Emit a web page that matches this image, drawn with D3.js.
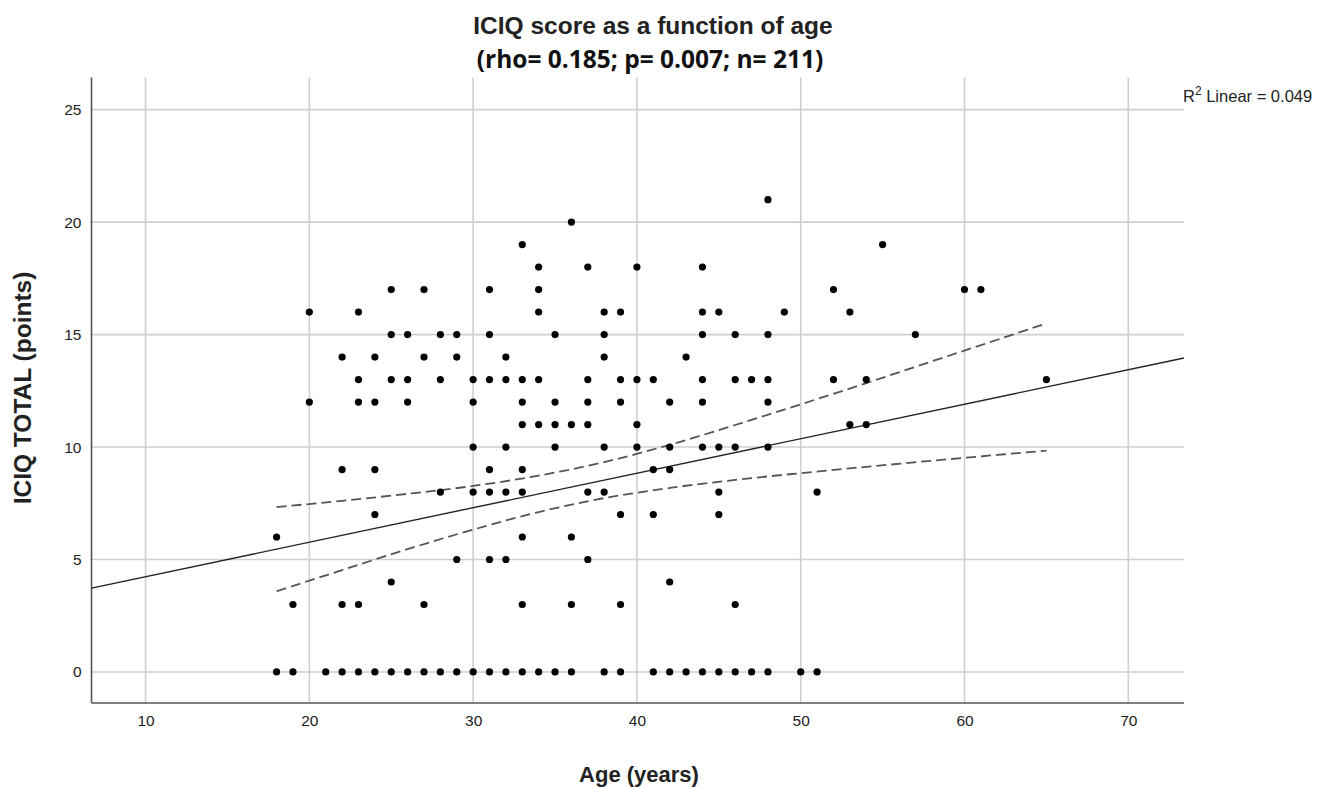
<!DOCTYPE html>
<html>
<head>
<meta charset="utf-8">
<script src="https://cdn.jsdelivr.net/npm/d3@7"></script>
<style>
  body { margin: 0; background: #fff; }
  svg { display: block; }
</style>
</head>
<body>
<div id="chart"></div>
<script>
// points (age, ICIQ total), grouped by score row
const ages = [
    48,                                   // 21
    36,                                   // 20
    33, 55,                               // 19
    34, 37, 40, 44,                       // 18
    25, 27, 31, 34, 52, 60, 61,           // 17
    20, 23, 34, 38, 39, 44, 45, 49, 53,   // 16
    25, 26, 28, 29, 31, 35, 38, 44, 46, 48, 57, // 15
    22, 24, 27, 29, 32, 38, 43,           // 14
    23, 25, 26, 28, 30, 31, 32, 33, 34, 37, 39, 40, 41, 44, 46, 47, 48, 52, 54, 65, // 13
    20, 23, 24, 26, 30, 33, 35, 37, 39, 42, 44, 48, // 12
    33, 34, 35, 36, 37, 40, 53, 54,       // 11
    30, 32, 35, 38, 40, 42, 44, 45, 46, 48, // 10
    22, 24, 31, 33, 41, 42,               // 9
    28, 30, 31, 32, 33, 37, 38, 45, 51,   // 8
    24, 39, 41, 45,                       // 7
    18, 33, 36,                           // 6
    29, 31, 32, 37,                       // 5
    25, 42,                               // 4
    19, 22, 23, 27, 33, 36, 39, 46,       // 3
    18, 19, 21, 22, 23, 24, 25, 26, 27, 28, 29, 30, 31, 32, 33, 34, 35, 36,
    38, 39, 41, 42, 43, 44, 45, 46, 47, 48, 50, 51 // 0
];
const scores = [
    21,
    20,
    19, 19,
    18, 18, 18, 18,
    17, 17, 17, 17, 17, 17, 17,
    16, 16, 16, 16, 16, 16, 16, 16, 16,
    15, 15, 15, 15, 15, 15, 15, 15, 15, 15, 15,
    14, 14, 14, 14, 14, 14, 14,
    13, 13, 13, 13, 13, 13, 13, 13, 13, 13, 13, 13, 13, 13, 13, 13, 13, 13, 13, 13,
    12, 12, 12, 12, 12, 12, 12, 12, 12, 12, 12, 12,
    11, 11, 11, 11, 11, 11, 11, 11,
    10, 10, 10, 10, 10, 10, 10, 10, 10, 10,
    9, 9, 9, 9, 9, 9,
    8, 8, 8, 8, 8, 8, 8, 8, 8,
    7, 7, 7, 7,
    6, 6, 6,
    5, 5, 5, 5,
    4, 4,
    3, 3, 3, 3, 3, 3, 3, 3,
    0, 0, 0, 0, 0, 0, 0, 0, 0, 0, 0, 0, 0, 0, 0, 0, 0, 0,
    0, 0, 0, 0, 0, 0, 0, 0, 0, 0, 0, 0
];

// fit line at the two plot edges, and the 95% band read at a few ages
const fitAges = [6.7, 73.4];
const fitScores = [3.73, 13.96];
const ciAges = [18, 22, 26, 30, 34, 38, 42, 46, 50, 54, 58, 62, 65];
const ciUpper = [7.33, 7.61, 7.92, 8.27, 8.73, 9.33, 10.10, 10.98, 11.90, 12.84, 13.81, 14.77, 15.50];
const ciLower = [3.59, 4.53, 5.46, 6.33, 7.11, 7.73, 8.18, 8.54, 8.84, 9.12, 9.39, 9.65, 9.84];

const xTicks = [10, 20, 30, 40, 50, 60, 70];
const yTicks = [0, 5, 10, 15, 20, 25];

const W = 1321, H = 787;
const plot = { left: 91.5, right: 1184, top: 77.5, bottom: 703 };

const svg = d3.select("#chart").append("svg")
    .attr("width", W)
    .attr("height", H)
    .style("font-family", "'Liberation Sans', Arial, sans-serif");

const x = d3.scaleLinear().domain([6.7, 73.4]).range([plot.left, plot.right]);
const y = d3.scaleLinear().domain([-1.38, 26.43]).range([plot.bottom, plot.top]);

// grid
svg.append("g")
    .selectAll("line")
    .data(xTicks)
    .join("line")
    .attr("x1", d => x(d)).attr("x2", d => x(d))
    .attr("y1", plot.top).attr("y2", plot.bottom)
    .attr("stroke", "#cfcfcf")
    .attr("stroke-width", 1.6);

svg.append("g")
    .selectAll("line")
    .data(yTicks)
    .join("line")
    .attr("x1", plot.left).attr("x2", plot.right)
    .attr("y1", d => y(d)).attr("y2", d => y(d))
    .attr("stroke", "#cfcfcf")
    .attr("stroke-width", 1.6);

// axes (labels only, SPSS style)
const xAxis = svg.append("g")
    .attr("transform", `translate(0,${plot.bottom})`)
    .call(d3.axisBottom(x).tickValues(xTicks).tickSize(0).tickPadding(12));
const yAxis = svg.append("g")
    .attr("transform", `translate(${plot.left},0)`)
    .call(d3.axisLeft(y).tickValues(yTicks).tickSize(0).tickPadding(10));

[xAxis, yAxis].forEach(g => {
    g.select(".domain").remove();
    g.selectAll("text")
        .style("font-size", "15.5px")
        .style("font-family", "'Liberation Sans', Arial, sans-serif")
        .attr("fill", "#222");
});

svg.append("line")
    .attr("x1", plot.left).attr("x2", plot.left)
    .attr("y1", plot.top).attr("y2", plot.bottom)
    .attr("stroke", "#555").attr("stroke-width", 1.6);
svg.append("line")
    .attr("x1", plot.left).attr("x2", plot.right)
    .attr("y1", plot.bottom).attr("y2", plot.bottom)
    .attr("stroke", "#555").attr("stroke-width", 1.6);

// confidence band
const ciLine = d3.line().curve(d3.curveMonotoneX).x(d => x(d[0])).y(d => y(d[1]));
[ciUpper, ciLower].forEach(vals => {
    svg.append("path")
        .datum(ciAges.map((a, i) => [a, vals[i]]))
        .attr("d", ciLine)
        .attr("fill", "none")
        .attr("stroke", "#555")
        .attr("stroke-width", 1.8)
        .attr("stroke-dasharray", "10,5");
});

// fit line
svg.append("path")
    .datum(fitAges.map((a, i) => [a, fitScores[i]]))
    .attr("d", d3.line().x(d => x(d[0])).y(d => y(d[1])))
    .attr("fill", "none")
    .attr("stroke", "#222")
    .attr("stroke-width", 1.4);

// points
svg.append("g")
    .selectAll("circle")
    .data(ages.map((a, i) => [a, scores[i]]))
    .join("circle")
    .attr("cx", d => x(d[0]))
    .attr("cy", d => y(d[1]))
    .attr("r", 3.6)
    .attr("fill", "#000");

// titles
svg.append("text")
    .attr("x", 653).attr("y", 34)
    .attr("text-anchor", "middle")
    .style("font-size", "24.5px")
    .style("font-weight", "bold")
    .attr("fill", "#222")
    .text("ICIQ score as a function of age");

svg.append("text")
    .attr("x", 650).attr("y", 68)
    .attr("text-anchor", "middle")
    .style("font-size", "24.5px")
    .style("font-weight", "bold")
    .style("font-family", "'Open Sans', 'Liberation Sans', sans-serif")
    .attr("fill", "#111")
    .text("(rho= 0.185; p= 0.007; n= 211)");

svg.append("text")
    .attr("x", 639).attr("y", 782)
    .attr("text-anchor", "middle")
    .style("font-size", "22px")
    .style("font-weight", "bold")
    .attr("fill", "#222")
    .text("Age (years)");

svg.append("text")
    .attr("transform", "translate(31,388) rotate(-90)")
    .attr("text-anchor", "middle")
    .style("font-size", "24.5px")
    .style("font-weight", "bold")
    .attr("fill", "#222")
    .text("ICIQ TOTAL (points)");

const r2 = svg.append("text")
    .attr("x", 1183).attr("y", 102)
    .style("font-size", "16.5px")
    .attr("fill", "#222");
r2.append("tspan").text("R");
r2.append("tspan").attr("dy", -7).style("font-size", "12px").text("2");
r2.append("tspan").attr("dy", 7).text(" Linear = 0.049");
</script>
</body>
</html>
